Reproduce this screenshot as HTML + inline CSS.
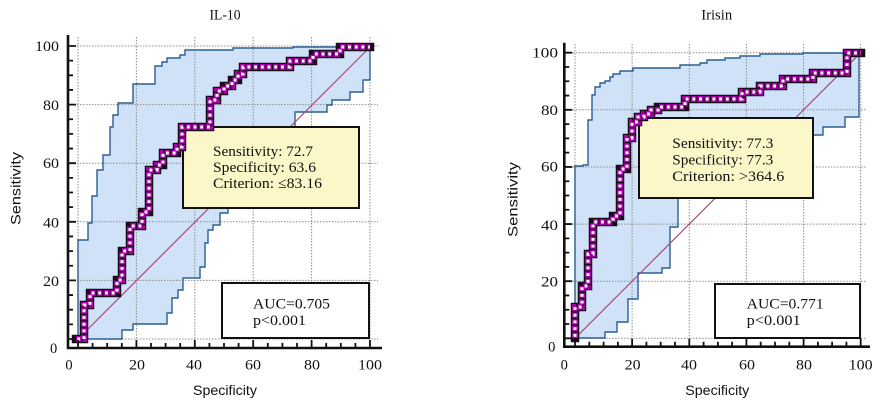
<!DOCTYPE html>
<html><head><meta charset="utf-8"><style>
html,body{margin:0;padding:0;background:#fff;}
svg{display:block;}
.ser{font-family:"Liberation Serif",serif;fill:#111;}
.san{font-family:"Liberation Sans",sans-serif;fill:#111;}
</style></head><body>
<svg width="886" height="406" viewBox="0 0 886 406" xmlns="http://www.w3.org/2000/svg">
<rect width="886" height="406" fill="#fff"/>

<!-- ============ LEFT CHART ============ -->
<polygon fill="#cfe2f7" points="78,339 78,240 88,240 88,223 92,223 92,196 97,196 97,170 103,170 103,155 110,155 110,127 113,127 113,115 118,115 118,103 133,103 133,84 155,84 155,66 162,66 162,62 167,62 167,58 180,58 180,55 185,55 185,50 233,50 233,48 293,48 293,47 370,47 370,80 363,80 363,92 350,92 350,100 332,100 332,105 327,105 327,112 295,112 295,127 290,140 260,180 228,208 228,213 220,213 220,225 213,225 213,230 208,230 208,243 205,243 205,267 200,267 200,278 183,278 183,290 178,290 178,298 172,298 172,313 167,313 167,324 133,324 133,330 122,330 122,339"/>
<g stroke="#8c8c8c" stroke-width="1" stroke-dasharray="1.5 1.5" fill="none">
<path d="M68 46H378M68 104.6H378M68 163.2H378M68 221.8H378M68 280.4H378M68 339H378"/>
<path d="M78 37V348M136.4 37V348M194.8 37V348M253.2 37V348M311.6 37V348M370 37V348"/>
</g>
<g stroke="#2c5f93" stroke-width="1.4" fill="none">
<polyline points="78,339 78,240 88,240 88,223 92,223 92,196 97,196 97,170 103,170 103,155 110,155 110,127 113,127 113,115 118,115 118,103 133,103 133,84 155,84 155,66 162,66 162,62 167,62 167,58 180,58 180,55 185,55 185,50 233,50 233,48 293,48 293,47 370,47"/>
<polyline points="78,339 122,339 122,330 133,330 133,324 167,324 167,313 172,313 172,298 178,298 178,290 183,290 183,278 200,278 200,267 205,267 205,243 208,243 208,230 213,230 213,225 220,225 220,213 228,213 228,208 260,180 290,140 295,127 295,112 327,112 327,105 332,105 332,100 350,100 350,92 363,92 363,80 370,80 370,47"/>
</g>
<line x1="78" y1="339" x2="370" y2="47" stroke="#a0507a" stroke-width="1.2"/>
<rect x="183" y="127" width="176" height="81" fill="#fcf7c9" stroke="#111" stroke-width="2"/>
<text class="ser" x="213" y="156" font-size="15" textLength="100" lengthAdjust="spacingAndGlyphs">Sensitivity: 72.7</text>
<text class="ser" x="213" y="172" font-size="15" textLength="103" lengthAdjust="spacingAndGlyphs">Specificity: 63.6</text>
<text class="ser" x="213" y="188" font-size="15" textLength="109" lengthAdjust="spacingAndGlyphs">Criterion: ≤83.16</text>
<rect x="222" y="283" width="147" height="55" fill="#fff" stroke="#111" stroke-width="2"/>
<text class="ser" x="253" y="308.3" font-size="15" textLength="77" lengthAdjust="spacingAndGlyphs">AUC=0.705</text>
<text class="ser" x="253" y="325" font-size="15" textLength="53" lengthAdjust="spacingAndGlyphs">p&lt;0.001</text>
<g fill="none" stroke-linejoin="miter">
<polyline stroke="#1a0a1a" stroke-width="8.5" stroke-linecap="square" points="76,339 84,339 84,305 90,305 90,293 117,293 117,280 122,280 122,251 130,251 130,226 142,226 142,212 149,212 149,170 157,170 157,165 163,165 163,153 177,153 177,147 182,147 182,127 210,127 210,100 217,100 217,91 224,91 224,86 232,86 232,80 238,80 238,74 243,74 243,67 290,67 290,61 313,61 313,54 340,54 340,47 370,47"/>
<polyline stroke="#a800a8" stroke-width="6" stroke-dasharray="5.4 1.3" points="76,339 84,339 84,305 90,305 90,293 117,293 117,280 122,280 122,251 130,251 130,226 142,226 142,212 149,212 149,170 157,170 157,165 163,165 163,153 177,153 177,147 182,147 182,127 210,127 210,100 217,100 217,91 224,91 224,86 232,86 232,80 238,80 238,74 243,74 243,67 290,67 290,61 313,61 313,54 340,54 340,47 370,47"/>
<polyline stroke="#ffffff" stroke-width="3" stroke-dasharray="0 1.3 2.8 2.6" points="76,339 84,339 84,305 90,305 90,293 117,293 117,280 122,280 122,251 130,251 130,226 142,226 142,212 149,212 149,170 157,170 157,165 163,165 163,153 177,153 177,147 182,147 182,127 210,127 210,100 217,100 217,91 224,91 224,86 232,86 232,80 238,80 238,74 243,74 243,67 290,67 290,61 313,61 313,54 340,54 340,47 370,47"/>
</g>
<g stroke="#111" fill="none">
<path stroke-width="2.6" d="M68 35V348H382"/>
<path stroke-width="1.8" d="M68 339h8M68 280.4h8M68 221.8h8M68 163.2h8M68 104.6h8M68 46h8"/>
<path stroke-width="1.8" d="M68 324.35h5M68 309.7h5M68 295.05h5M68 265.75h5M68 251.1h5M68 236.45h5M68 207.15h5M68 192.5h5M68 177.85h5M68 148.55h5M68 133.9h5M68 119.25h5M68 89.95h5M68 75.3h5M68 60.65h5"/>
<path stroke-width="1.8" d="M78 348v-8M136.4 348v-8M194.8 348v-8M253.2 348v-8M311.6 348v-8M370 348v-8"/>
<path stroke-width="1.8" d="M92.6 348v-5M107.2 348v-5M121.8 348v-5M151 348v-5M165.6 348v-5M180.2 348v-5M209.4 348v-5M224 348v-5M238.6 348v-5M267.8 348v-5M282.4 348v-5M297 348v-5M326.2 348v-5M340.8 348v-5M355.4 348v-5"/>
</g>
<g class="ser" font-size="14.5" text-anchor="end">
<text x="59" y="51" textLength="24" lengthAdjust="spacingAndGlyphs">100</text>
<text x="59" y="110" textLength="16" lengthAdjust="spacingAndGlyphs">80</text>
<text x="59" y="168" textLength="16" lengthAdjust="spacingAndGlyphs">60</text>
<text x="59" y="227.5" textLength="16" lengthAdjust="spacingAndGlyphs">40</text>
<text x="59" y="286" textLength="16" lengthAdjust="spacingAndGlyphs">20</text>
<text x="57.3" y="352.8">0</text>
</g>
<g class="ser" font-size="14.5" text-anchor="middle">
<text x="69" y="369.3">0</text>
<text x="137" y="369.3" textLength="16" lengthAdjust="spacingAndGlyphs">20</text>
<text x="194" y="369.3" textLength="16" lengthAdjust="spacingAndGlyphs">40</text>
<text x="253" y="369.3" textLength="16" lengthAdjust="spacingAndGlyphs">60</text>
<text x="312" y="369.3" textLength="16" lengthAdjust="spacingAndGlyphs">80</text>
<text x="370" y="369.3" textLength="24" lengthAdjust="spacingAndGlyphs">100</text>
</g>
<text class="ser" x="225" y="19.5" font-size="15" text-anchor="middle" textLength="31" lengthAdjust="spacingAndGlyphs">IL-10</text>
<text class="san" x="225" y="395" font-size="14" text-anchor="middle" textLength="64" lengthAdjust="spacingAndGlyphs">Specificity</text>
<text class="san" font-size="14" text-anchor="middle" transform="translate(20.7,188.5) rotate(-90)" textLength="73" lengthAdjust="spacingAndGlyphs">Sensitivity</text>

<!-- ============ RIGHT CHART ============ -->
<polygon fill="#cfe2f7" points="575,338 575,166 583,166 583,165 588,165 588,120 592,120 592,95 595,95 595,87 600,87 600,83 605,83 605,81 610,81 610,77 613,77 613,74 620,74 620,71 633,71 633,68 680,68 680,65 700,65 700,63 707,63 707,60 725,60 725,58 740,58 740,56 760,56 760,54 803,54 803,53 861,53 859,53 859,117 845,117 845,127 823,127 823,135 812,135 750,165 678,190 678,227 670,227 670,268 662,268 662,273 638,273 638,299 628,299 628,322 617,322 617,332 605,332 605,338"/>
<g stroke="#8c8c8c" stroke-width="1" stroke-dasharray="1.5 1.5" fill="none">
<path d="M564 52.7H866M564 109.8H866M564 167H866M564 224.1H866M564 281.2H866M564 338.3H866"/>
<path d="M575 44V346M632.1 44V346M689.3 44V346M746.4 44V346M803.6 44V346M860.7 44V346"/>
</g>
<g stroke="#2c5f93" stroke-width="1.4" fill="none">
<polyline points="575,338 575,166 583,166 583,165 588,165 588,120 592,120 592,95 595,95 595,87 600,87 600,83 605,83 605,81 610,81 610,77 613,77 613,74 620,74 620,71 633,71 633,68 680,68 680,65 700,65 700,63 707,63 707,60 725,60 725,58 740,58 740,56 760,56 760,54 803,54 803,53 861,53"/>
<polyline points="575,338 605,338 605,332 617,332 617,322 628,322 628,299 638,299 638,273 662,273 662,268 670,268 670,227 678,227 678,190 750,165 812,135 823,135 823,127 845,127 845,117 859,117 859,53 861,53"/>
</g>
<line x1="575" y1="338.3" x2="860.7" y2="52.7" stroke="#a0507a" stroke-width="1.2"/>
<rect x="639" y="118" width="174" height="80" fill="#fcf7c9" stroke="#111" stroke-width="2"/>
<text class="ser" x="672.3" y="148" font-size="15" textLength="101" lengthAdjust="spacingAndGlyphs">Sensitivity: 77.3</text>
<text class="ser" x="672.3" y="164.5" font-size="15" textLength="101" lengthAdjust="spacingAndGlyphs">Specificity: 77.3</text>
<text class="ser" x="672.3" y="181" font-size="15" textLength="112" lengthAdjust="spacingAndGlyphs">Criterion: &gt;364.6</text>
<rect x="715" y="284" width="145" height="54" fill="#fff" stroke="#111" stroke-width="2"/>
<text class="ser" x="746.7" y="308.3" font-size="15" textLength="77" lengthAdjust="spacingAndGlyphs">AUC=0.771</text>
<text class="ser" x="746.7" y="325" font-size="15" textLength="54" lengthAdjust="spacingAndGlyphs">p&lt;0.001</text>
<g fill="none" stroke-linejoin="miter">
<polyline stroke="#1a0a1a" stroke-width="8.5" stroke-linecap="square" points="575,338 575,307 582,307 582,286 588,286 588,254 593,254 593,222 613,222 613,216 620,216 620,169 627,169 627,138 632,138 632,122 638,122 638,117 644,117 644,114 651,114 651,110 658,110 658,107 685,107 685,99 742,99 742,92 760,92 760,86 783,86 783,79 813,79 813,73 847,73 847,53 861,53"/>
<polyline stroke="#a800a8" stroke-width="6" stroke-dasharray="5.4 1.3" points="575,338 575,307 582,307 582,286 588,286 588,254 593,254 593,222 613,222 613,216 620,216 620,169 627,169 627,138 632,138 632,122 638,122 638,117 644,117 644,114 651,114 651,110 658,110 658,107 685,107 685,99 742,99 742,92 760,92 760,86 783,86 783,79 813,79 813,73 847,73 847,53 861,53"/>
<polyline stroke="#ffffff" stroke-width="3" stroke-dasharray="0 1.3 2.8 2.6" points="575,338 575,307 582,307 582,286 588,286 588,254 593,254 593,222 613,222 613,216 620,216 620,169 627,169 627,138 632,138 632,122 638,122 638,117 644,117 644,114 651,114 651,110 658,110 658,107 685,107 685,99 742,99 742,92 760,92 760,86 783,86 783,79 813,79 813,73 847,73 847,53 861,53"/>
</g>
<g stroke="#111" fill="none">
<path stroke-width="2.6" d="M564.3 42.7V346.7H870"/>
<path stroke-width="1.8" d="M564.3 338.3h8M564.3 281.18h8M564.3 224.06h8M564.3 166.94h8M564.3 109.82h8M564.3 52.7h8"/>
<path stroke-width="1.8" d="M564.3 324.02h5M564.3 309.74h5M564.3 295.46h5M564.3 266.9h5M564.3 252.62h5M564.3 238.34h5M564.3 209.78h5M564.3 195.5h5M564.3 181.22h5M564.3 152.66h5M564.3 138.38h5M564.3 124.1h5M564.3 95.54h5M564.3 81.26h5M564.3 66.98h5"/>
<path stroke-width="1.8" d="M575 346.7v-8M632.1 346.7v-8M689.3 346.7v-8M746.4 346.7v-8M803.6 346.7v-8M860.7 346.7v-8"/>
<path stroke-width="1.8" d="M589.3 346.7v-5M603.6 346.7v-5M617.9 346.7v-5M646.4 346.7v-5M660.7 346.7v-5M675 346.7v-5M703.6 346.7v-5M717.9 346.7v-5M732.1 346.7v-5M760.7 346.7v-5M775 346.7v-5M789.3 346.7v-5M817.9 346.7v-5M832.1 346.7v-5M846.4 346.7v-5"/>
</g>
<g class="ser" font-size="14.5" text-anchor="end">
<text x="558" y="57.5" textLength="26" lengthAdjust="spacingAndGlyphs">100</text>
<text x="558" y="115" textLength="17" lengthAdjust="spacingAndGlyphs">80</text>
<text x="558" y="171.5" textLength="17" lengthAdjust="spacingAndGlyphs">60</text>
<text x="558" y="230" textLength="17" lengthAdjust="spacingAndGlyphs">40</text>
<text x="558" y="286.5" textLength="17" lengthAdjust="spacingAndGlyphs">20</text>
</g>
<g class="ser" font-size="14.5" text-anchor="middle">
<text x="551.7" y="351.5">0</text>
<text x="564.3" y="369.3">0</text>
<text x="632.7" y="369.3" textLength="16" lengthAdjust="spacingAndGlyphs">20</text>
<text x="689" y="369.3" textLength="16" lengthAdjust="spacingAndGlyphs">40</text>
<text x="747" y="369.3" textLength="16" lengthAdjust="spacingAndGlyphs">60</text>
<text x="804" y="369.3" textLength="16" lengthAdjust="spacingAndGlyphs">80</text>
<text x="860.7" y="369.3" textLength="24" lengthAdjust="spacingAndGlyphs">100</text>
</g>
<text class="ser" x="716.7" y="19.5" font-size="15" text-anchor="middle" textLength="31" lengthAdjust="spacingAndGlyphs">Irisin</text>
<text class="san" x="717.3" y="395" font-size="14" text-anchor="middle" textLength="64" lengthAdjust="spacingAndGlyphs">Specificity</text>
<text class="san" font-size="14" text-anchor="middle" transform="translate(517.7,199.5) rotate(-90)" textLength="75" lengthAdjust="spacingAndGlyphs">Sensitivity</text>
</svg>
</body></html>
